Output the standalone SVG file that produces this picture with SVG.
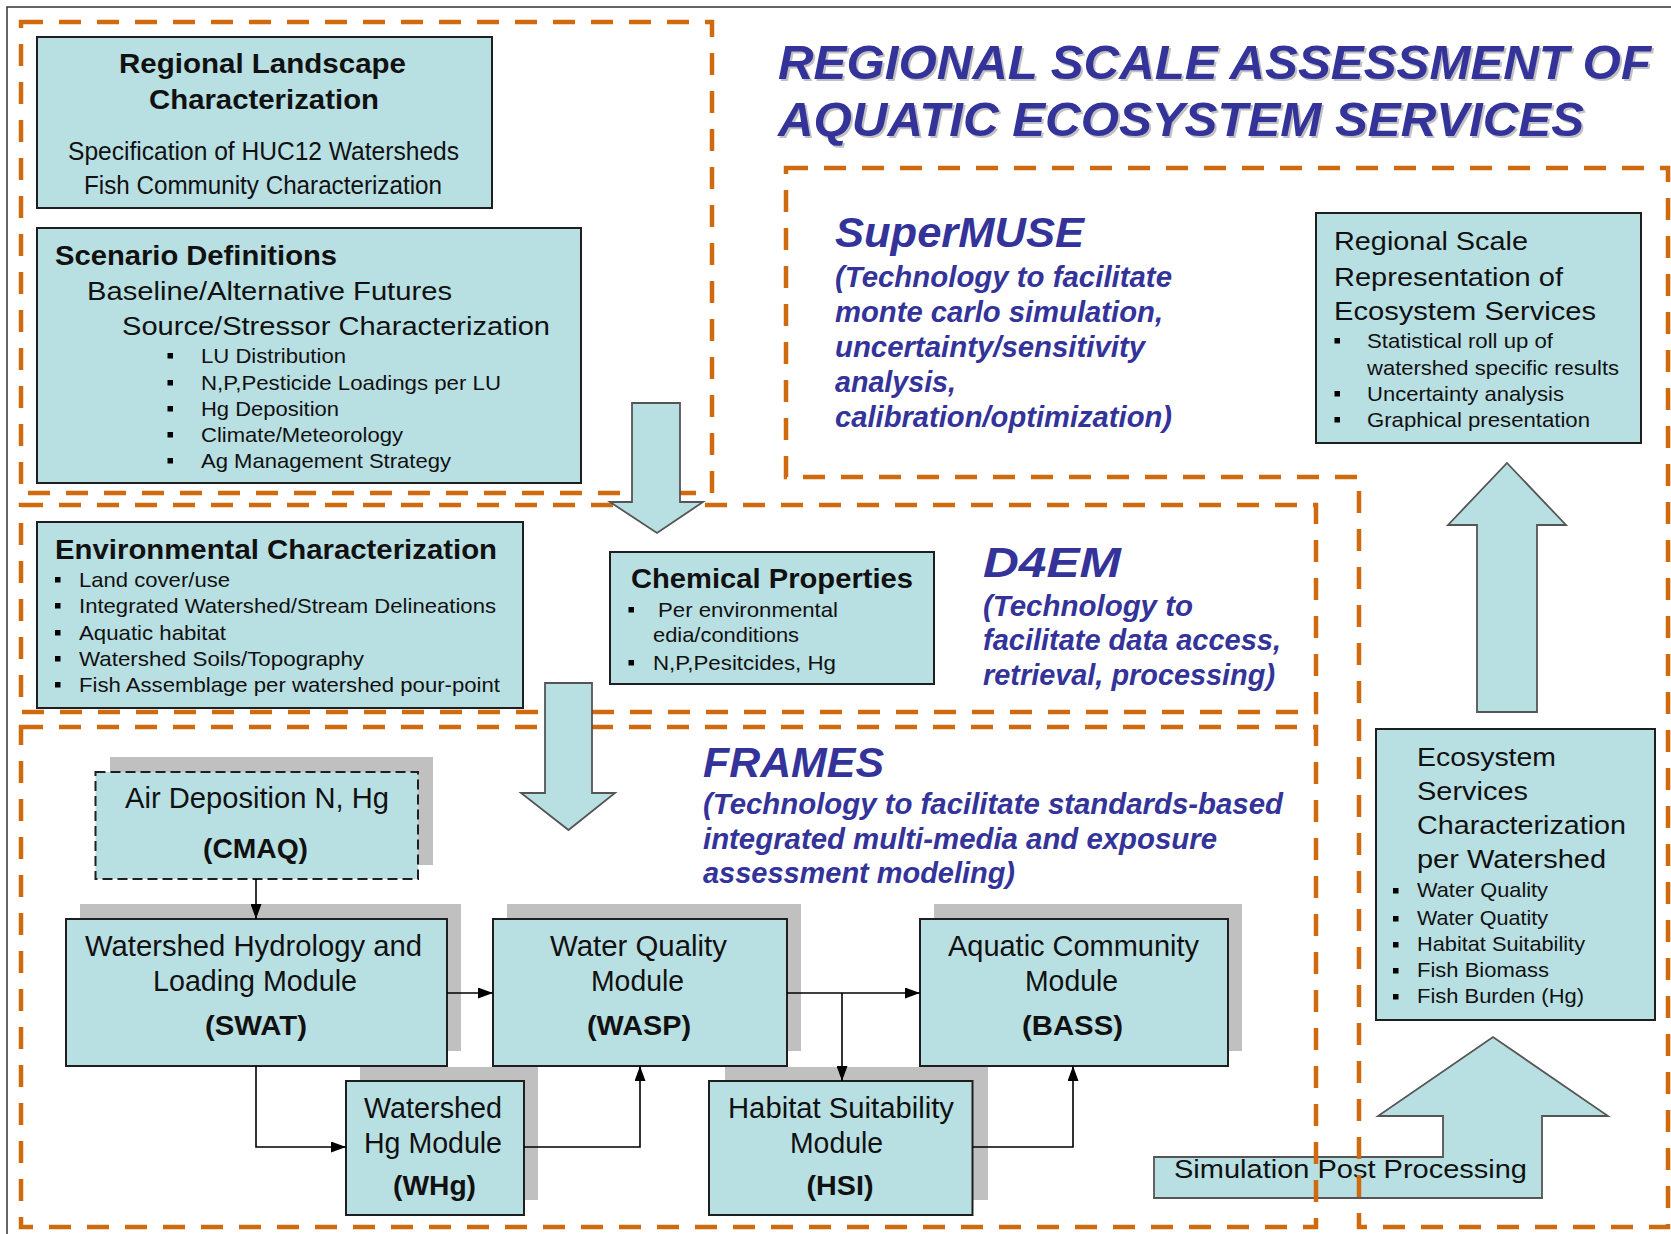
<svg xmlns="http://www.w3.org/2000/svg" width="1671" height="1234" viewBox="0 0 1671 1234">
  <style>
    text { font-family: "Liberation Sans", Arial, sans-serif; fill: #111; }
    .box { fill: #B8DFE2; stroke: #1f1f1f; stroke-width: 2; }
    .shadow { fill: #C0C0C0; }
    .frame { fill: none; stroke: #CF6A0E; stroke-width: 4.5; stroke-dasharray: 22 16; }
    .bigarrow { fill: #B8DFE2; stroke: #555; stroke-width: 1.8; stroke-linejoin: miter; }
    .conn { fill: none; stroke: #000; stroke-width: 1.6; }
    .hd { font-size: 28px; font-weight: bold; }
    .tx { font-size: 26px; }
    .bl { font-size: 21px; }
    .md { font-size: 29px; }
    .mb { font-size: 28px; font-weight: bold; }
    .ti { font-size: 49px; font-weight: bold; font-style: italic; fill: #333399; }
    .tish { font-size: 49px; font-weight: bold; font-style: italic; fill: #8f8f8f; opacity: 0.55; }
    .big { font-size: 42px; font-weight: bold; font-style: italic; fill: #333399; }
    .bi { font-size: 29px; font-weight: bold; font-style: italic; fill: #333399; }
    .dot { fill: #000; }
  </style>
  <defs>
    <marker id="ah" viewBox="0 0 15 11" refX="15" refY="5.5" markerWidth="15" markerHeight="11" orient="auto" markerUnits="userSpaceOnUse">
      <path d="M0,0 L15,5.5 L0,11 z" fill="#000"/>
    </marker>
  </defs>

  <rect width="1671" height="1234" fill="#fff"/>
  <!-- page border -->
  <path d="M7,1234 V7 H1671" fill="none" stroke="#333" stroke-width="1.5"/>

  <!-- simulation post-processing arrow (drawn under the frames) -->
  <g id="post-processing">
    <polygon class="bigarrow" points="1154,1157 1443,1157 1443,1116 1378,1116 1493,1037 1608,1116 1542,1116 1542,1198 1154,1198"/>
    <text class="tx" x="1174" y="1178" textLength="353" lengthAdjust="spacingAndGlyphs">Simulation Post Processing</text>
  </g>

  <!-- dashed technology frames -->
  <g id="frames">
    <rect class="frame" x="21" y="22" width="691" height="471"/>
    <rect class="frame" x="21" y="505" width="1295" height="207"/>
    <rect class="frame" x="21" y="727" width="1295" height="500"/>
    <polygon class="frame" points="786,168 1668,168 1668,1227 1359,1227 1359,477 786,477"/>
  </g>

  <!-- headings -->
  <g id="title">
    <text class="tish" x="780" y="81" textLength="873" lengthAdjust="spacingAndGlyphs">REGIONAL SCALE ASSESSMENT OF</text>
    <text class="tish" x="780" y="138" textLength="806" lengthAdjust="spacingAndGlyphs">AQUATIC ECOSYSTEM SERVICES</text>
    <text class="ti" x="778" y="79" textLength="873" lengthAdjust="spacingAndGlyphs">REGIONAL SCALE ASSESSMENT OF</text>
    <text class="ti" x="778" y="136" textLength="806" lengthAdjust="spacingAndGlyphs">AQUATIC ECOSYSTEM SERVICES</text>
  </g>

  <g id="supermuse">
    <text class="big" x="835" y="247" textLength="249" lengthAdjust="spacingAndGlyphs">SuperMUSE</text>
    <text class="bi" x="835" y="287" textLength="337" lengthAdjust="spacingAndGlyphs">(Technology to facilitate</text>
    <text class="bi" x="835" y="322" textLength="328" lengthAdjust="spacingAndGlyphs">monte carlo simulation,</text>
    <text class="bi" x="835" y="357" textLength="310" lengthAdjust="spacingAndGlyphs">uncertainty/sensitivity</text>
    <text class="bi" x="835" y="392" textLength="121" lengthAdjust="spacingAndGlyphs">analysis,</text>
    <text class="bi" x="835" y="427" textLength="337" lengthAdjust="spacingAndGlyphs">calibration/optimization)</text>
  </g>

  <g id="d4em">
    <text class="big" x="983" y="577" textLength="138" lengthAdjust="spacingAndGlyphs">D4EM</text>
    <text class="bi" x="983" y="616" textLength="210" lengthAdjust="spacingAndGlyphs">(Technology to</text>
    <text class="bi" x="983" y="650" textLength="298" lengthAdjust="spacingAndGlyphs">facilitate data access,</text>
    <text class="bi" x="983" y="685" textLength="292" lengthAdjust="spacingAndGlyphs">retrieval, processing)</text>
  </g>

  <g id="frames-label">
    <text class="big" x="703" y="777" textLength="181" lengthAdjust="spacingAndGlyphs">FRAMES</text>
    <text class="bi" x="703" y="814" textLength="580" lengthAdjust="spacingAndGlyphs">(Technology to facilitate standards-based</text>
    <text class="bi" x="703" y="849" textLength="514" lengthAdjust="spacingAndGlyphs">integrated multi-media and exposure</text>
    <text class="bi" x="703" y="883" textLength="312" lengthAdjust="spacingAndGlyphs">assessment modeling)</text>
  </g>

  <!-- input nodes -->
  <g id="regional-landscape">
    <rect class="box" x="37" y="37" width="455" height="171"/>
    <text class="hd" x="119" y="73" textLength="287" lengthAdjust="spacingAndGlyphs">Regional Landscape</text>
    <text class="hd" x="149" y="109" textLength="230" lengthAdjust="spacingAndGlyphs">Characterization</text>
    <text class="tx" x="68" y="160" textLength="391" lengthAdjust="spacingAndGlyphs">Specification of  HUC12 Watersheds</text>
    <text class="tx" x="84" y="194" textLength="358" lengthAdjust="spacingAndGlyphs">Fish Community Characterization</text>
  </g>

  <g id="scenario-definitions">
    <rect class="box" x="37" y="228" width="544" height="255"/>
    <text class="hd" x="55" y="265" textLength="282" lengthAdjust="spacingAndGlyphs">Scenario Definitions</text>
    <text class="tx" x="87" y="300" textLength="365" lengthAdjust="spacingAndGlyphs">Baseline/Alternative Futures</text>
    <text class="tx" x="122" y="335" textLength="428" lengthAdjust="spacingAndGlyphs">Source/Stressor Characterization</text>
    <rect class="dot" x="167.5" y="353" width="5.5" height="5.5"/>
    <rect class="dot" x="167.5" y="380" width="5.5" height="5.5"/>
    <rect class="dot" x="167.5" y="406" width="5.5" height="5.5"/>
    <rect class="dot" x="167.5" y="432" width="5.5" height="5.5"/>
    <rect class="dot" x="167.5" y="458" width="5.5" height="5.5"/>
    <text class="bl" x="201" y="363" textLength="145" lengthAdjust="spacingAndGlyphs">LU Distribution</text>
    <text class="bl" x="201" y="390" textLength="300" lengthAdjust="spacingAndGlyphs">N,P,Pesticide Loadings per LU</text>
    <text class="bl" x="201" y="416" textLength="138" lengthAdjust="spacingAndGlyphs">Hg Deposition</text>
    <text class="bl" x="201" y="442" textLength="202" lengthAdjust="spacingAndGlyphs">Climate/Meteorology</text>
    <text class="bl" x="201" y="468" textLength="250" lengthAdjust="spacingAndGlyphs">Ag Management Strategy</text>
  </g>

  <g id="environmental-characterization">
    <rect class="box" x="37" y="522" width="486" height="186"/>
    <text class="hd" x="55" y="559" textLength="442" lengthAdjust="spacingAndGlyphs">Environmental Characterization</text>
    <rect class="dot" x="55" y="577" width="5.5" height="5.5"/>
    <rect class="dot" x="55" y="603" width="5.5" height="5.5"/>
    <rect class="dot" x="55" y="630" width="5.5" height="5.5"/>
    <rect class="dot" x="55" y="656" width="5.5" height="5.5"/>
    <rect class="dot" x="55" y="682" width="5.5" height="5.5"/>
    <text class="bl" x="79" y="587" textLength="151" lengthAdjust="spacingAndGlyphs">Land cover/use</text>
    <text class="bl" x="79" y="613" textLength="417" lengthAdjust="spacingAndGlyphs">Integrated Watershed/Stream Delineations</text>
    <text class="bl" x="79" y="640" textLength="147" lengthAdjust="spacingAndGlyphs">Aquatic habitat</text>
    <text class="bl" x="79" y="666" textLength="285" lengthAdjust="spacingAndGlyphs">Watershed Soils/Topography</text>
    <text class="bl" x="79" y="692" textLength="421" lengthAdjust="spacingAndGlyphs">Fish Assemblage per watershed pour-point</text>
  </g>

  <g id="chemical-properties">
    <rect class="box" x="610" y="552" width="324" height="132"/>
    <text class="hd" x="631" y="588" textLength="282" lengthAdjust="spacingAndGlyphs">Chemical Properties</text>
    <rect class="dot" x="628.5" y="607" width="5.5" height="5.5"/>
    <rect class="dot" x="628.5" y="660" width="5.5" height="5.5"/>
    <text class="bl" x="658" y="617" textLength="180" lengthAdjust="spacingAndGlyphs">Per environmental</text>
    <text class="bl" x="653" y="642" textLength="146" lengthAdjust="spacingAndGlyphs">edia/conditions</text>
    <text class="bl" x="653" y="670" textLength="183" lengthAdjust="spacingAndGlyphs">N,P,Pesitcides, Hg</text>
  </g>

  <!-- model nodes -->
  <g id="cmaq">
    <rect class="shadow" x="110" y="757" width="323" height="108"/>
    <rect class="box" x="95.5" y="772" width="322.5" height="107" stroke-dasharray="10 5"/>
    <text class="md" x="125" y="808" textLength="264" lengthAdjust="spacingAndGlyphs">Air Deposition N, Hg</text>
    <text class="mb" x="203" y="858" textLength="105" lengthAdjust="spacingAndGlyphs">(CMAQ)</text>
  </g>

  <g id="swat">
    <rect class="shadow" x="80" y="904" width="381" height="147"/>
    <rect class="box" x="66" y="919" width="381" height="147"/>
    <text class="md" x="85" y="956" textLength="337" lengthAdjust="spacingAndGlyphs">Watershed Hydrology and</text>
    <text class="md" x="153" y="991" textLength="204" lengthAdjust="spacingAndGlyphs">Loading Module</text>
    <text class="mb" x="205" y="1035" textLength="102" lengthAdjust="spacingAndGlyphs">(SWAT)</text>
  </g>

  <g id="wasp">
    <rect class="shadow" x="507" y="904" width="294" height="147"/>
    <rect class="box" x="493" y="919" width="294" height="147"/>
    <text class="md" x="550" y="956" textLength="177" lengthAdjust="spacingAndGlyphs">Water Quality</text>
    <text class="md" x="591" y="991" textLength="93" lengthAdjust="spacingAndGlyphs">Module</text>
    <text class="mb" x="587" y="1035" textLength="104" lengthAdjust="spacingAndGlyphs">(WASP)</text>
  </g>

  <g id="bass">
    <rect class="shadow" x="934" y="904" width="308" height="147"/>
    <rect class="box" x="920" y="919" width="308" height="147"/>
    <text class="md" x="948" y="956" textLength="251" lengthAdjust="spacingAndGlyphs">Aquatic Community</text>
    <text class="md" x="1025" y="991" textLength="93" lengthAdjust="spacingAndGlyphs">Module</text>
    <text class="mb" x="1022" y="1035" textLength="101" lengthAdjust="spacingAndGlyphs">(BASS)</text>
  </g>

  <g id="whg">
    <rect class="shadow" x="360" y="1067" width="178" height="133"/>
    <rect class="box" x="346" y="1081" width="178" height="134"/>
    <text class="md" x="364" y="1118" textLength="138" lengthAdjust="spacingAndGlyphs">Watershed</text>
    <text class="md" x="364" y="1153" textLength="138" lengthAdjust="spacingAndGlyphs">Hg Module</text>
    <text class="mb" x="393" y="1195" textLength="83" lengthAdjust="spacingAndGlyphs">(WHg)</text>
  </g>

  <g id="hsi">
    <rect class="shadow" x="725" y="1067" width="263" height="133"/>
    <rect class="box" x="709" y="1081" width="263.5" height="134"/>
    <text class="md" x="728" y="1118" textLength="226" lengthAdjust="spacingAndGlyphs">Habitat Suitability</text>
    <text class="md" x="790" y="1153" textLength="93" lengthAdjust="spacingAndGlyphs">Module</text>
    <text class="mb" x="806.5" y="1195" textLength="67" lengthAdjust="spacingAndGlyphs">(HSI)</text>
  </g>

  <!-- output nodes -->
  <g id="regional-scale">
    <rect class="box" x="1316" y="213" width="325" height="230"/>
    <text class="tx" x="1334" y="250" textLength="194" lengthAdjust="spacingAndGlyphs">Regional Scale</text>
    <text class="tx" x="1334" y="286" textLength="229" lengthAdjust="spacingAndGlyphs">Representation of</text>
    <text class="tx" x="1334" y="320" textLength="262" lengthAdjust="spacingAndGlyphs">Ecosystem Services</text>
    <rect class="dot" x="1334.5" y="338" width="5.5" height="5.5"/>
    <rect class="dot" x="1334.5" y="391" width="5.5" height="5.5"/>
    <rect class="dot" x="1334.5" y="417" width="5.5" height="5.5"/>
    <text class="bl" x="1367" y="348" textLength="186" lengthAdjust="spacingAndGlyphs">Statistical roll up of</text>
    <text class="bl" x="1367" y="375" textLength="252" lengthAdjust="spacingAndGlyphs">watershed specific results</text>
    <text class="bl" x="1367" y="401" textLength="197" lengthAdjust="spacingAndGlyphs">Uncertainty analysis</text>
    <text class="bl" x="1367" y="427" textLength="223" lengthAdjust="spacingAndGlyphs">Graphical presentation</text>
  </g>

  <g id="ecosystem-services">
    <rect class="box" x="1376" y="729" width="279" height="291"/>
    <text class="tx" x="1417" y="766" textLength="139" lengthAdjust="spacingAndGlyphs">Ecosystem</text>
    <text class="tx" x="1417" y="800" textLength="111" lengthAdjust="spacingAndGlyphs">Services</text>
    <text class="tx" x="1417" y="834" textLength="209" lengthAdjust="spacingAndGlyphs">Characterization</text>
    <text class="tx" x="1417" y="868" textLength="189" lengthAdjust="spacingAndGlyphs">per Watershed</text>
    <rect class="dot" x="1393" y="888" width="5.5" height="5.5"/>
    <rect class="dot" x="1393" y="916" width="5.5" height="5.5"/>
    <rect class="dot" x="1393" y="942" width="5.5" height="5.5"/>
    <rect class="dot" x="1393" y="968" width="5.5" height="5.5"/>
    <rect class="dot" x="1393" y="994" width="5.5" height="5.5"/>
    <text class="bl" x="1417" y="897" textLength="131" lengthAdjust="spacingAndGlyphs">Water Quality</text>
    <text class="bl" x="1417" y="925" textLength="131" lengthAdjust="spacingAndGlyphs">Water Quatity</text>
    <text class="bl" x="1417" y="951" textLength="168" lengthAdjust="spacingAndGlyphs">Habitat Suitability</text>
    <text class="bl" x="1417" y="977" textLength="132" lengthAdjust="spacingAndGlyphs">Fish Biomass</text>
    <text class="bl" x="1417" y="1003" textLength="167" lengthAdjust="spacingAndGlyphs">Fish Burden (Hg)</text>
  </g>

  <!-- block arrows between stages -->
  <g id="flow-arrows">
    <polygon class="bigarrow" points="632,403 680,403 680,502 703,502 657,533 610,502 632,502"/>
    <polygon class="bigarrow" points="545,683 592,683 592,793 615,793 568.5,830 521,793 545,793"/>
    <polygon class="bigarrow" points="1507,463 1566,525 1537,525 1537,712 1477,712 1477,525 1448,525"/>
  </g>

  <!-- model connectors -->
  <g id="connectors">
    <path class="conn" d="M256,879 V919" marker-end="url(#ah)"/>
    <path class="conn" d="M447,993 H493" marker-end="url(#ah)"/>
    <path class="conn" d="M256,1066 V1147 H346" marker-end="url(#ah)"/>
    <path class="conn" d="M524,1147 H640 V1066" marker-end="url(#ah)"/>
    <path class="conn" d="M787,993 H920" marker-end="url(#ah)"/>
    <path class="conn" d="M842,993 V1081" marker-end="url(#ah)"/>
    <path class="conn" d="M972.5,1147 H1073 V1066" marker-end="url(#ah)"/>
  </g>
</svg>
